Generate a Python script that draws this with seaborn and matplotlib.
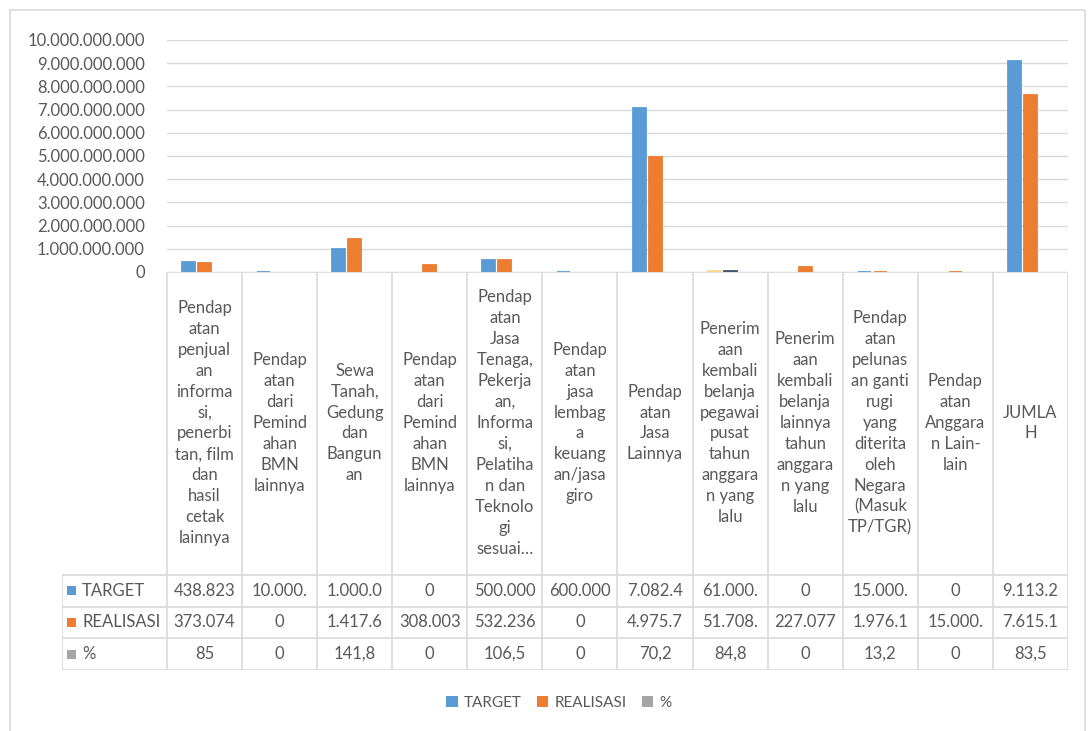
import matplotlib
matplotlib.use("Agg")
import matplotlib.pyplot as plt
import matplotlib.patches as mpatches
from matplotlib.ticker import FuncFormatter
import seaborn as sns
import pandas as pd

# ---------------- data ----------------
categories = [
    "Pendap\natan\npenjual\nan\ninforma\nsi,\npenerbi\ntan, film\ndan\nhasil\ncetak\nlainnya",
    "Pendap\natan\ndari\nPemind\nahan\nBMN\nlainnya",
    "Sewa\nTanah,\nGedung\ndan\nBangun\nan",
    "Pendap\natan\ndari\nPemind\nahan\nBMN\nlainnya ",
    "Pendap\natan\nJasa\nTenaga,\nPekerja\nan,\nInforma\nsi,\nPelatiha\nn dan\nTeknolo\ngi\nsesuai…",
    "Pendap\natan\njasa\nlembag\na\nkeuang\nan/jasa\ngiro",
    "Pendap\natan\nJasa\nLainnya",
    "Penerim\naan\nkembali\nbelanja\npegawai\npusat\ntahun\nanggara\nn yang\nlalu",
    "Penerim\naan\nkembali\nbelanja\nlainnya\ntahun\nanggara\nn yang\nlalu",
    "Pendap\natan\npelunas\nan ganti\nrugi\nyang\nditerita\noleh\nNegara\n(Masuk\nTP/TGR)",
    "Pendap\natan\nAnggara\nn Lain-\nlain",
    "JUMLA\nH",
]
series = ["TARGET", "REALISASI", "%"]
target = [438823000, 10000000, 1000000000, 0, 500000000, 600000, 7082400000,
          61000000, 0, 15000000, 0, 9113200000]
realisasi = [373074000, 0, 1417600000, 308003000, 532236000, 0, 4975700000,
             51708000, 227077000, 1976100, 15000000, 7615100000]
persen = [85, 0, 141.8, 0, 106.5, 0, 70.2, 84.8, 0, 13.2, 0, 83.5]
# table cell texts as shown (truncated by the cell width)
target_txt = ["438.823", "10.000.", "1.000.0", "0", "500.000", "600.000", "7.082.4",
              "61.000.", "0", "15.000.", "0", "9.113.2"]
realisasi_txt = ["373.074", "0", "1.417.6", "308.003", "532.236", "0", "4.975.7",
                 "51.708.", "227.077", "1.976.1", "15.000.", "7.615.1"]
persen_txt = ["85", "0", "141,8", "0", "106,5", "0", "70,2", "84,8", "0", "13,2", "0", "83,5"]
yticks = [0, 1e9, 2e9, 3e9, 4e9, 5e9, 6e9, 7e9, 8e9, 9e9, 1e10]

colors = ["#5B9BD5", "#ED7D31", "#A5A5A5"]
special_cat = 7
special_colors = ["#F7D98B", "#44546A"]

FONT = "Lato"
TXT = "#595959"
GRID = "#D9D9D9"
FS = 12

sns.set_style("white")
plt.rcParams["font.family"] = [FONT, "DejaVu Sans"]

W, H = 1088, 731
fig = plt.figure(figsize=(W / 100, H / 100), dpi=100)

def fx(px):
    return px / W

def fy(py):
    return 1 - py / H

# outer border
fig.patches.append(mpatches.Rectangle((fx(10), fy(735)), fx(1085) - fx(10), fy(10) - fy(735),
                                      transform=fig.transFigure, fill=False,
                                      edgecolor="#D9D9D9", linewidth=1.2))

L, R, TOP, BOT = 167, 1068, 40, 272
ax = fig.add_axes([fx(L), fy(BOT), fx(R) - fx(L), fy(TOP) - fy(BOT)])

keys = [f"c{i}" for i in range(len(categories))]
rows = []
for i, k in enumerate(keys):
    rows.append({"cat": k, "series": "TARGET", "value": target[i]})
    rows.append({"cat": k, "series": "REALISASI", "value": realisasi[i]})
    rows.append({"cat": k, "series": "%", "value": persen[i]})
df = pd.DataFrame(rows)

sns.barplot(data=df, x="cat", y="value", hue="series", order=keys, hue_order=series,
            palette=colors, width=0.64, gap=0.19, ax=ax, legend=False, saturation=1)

# style patches: hairline edge so tiny values remain visible (as Excel does)
for p in ax.patches:
    h = p.get_height()
    cx = p.get_x() + p.get_width() / 2
    fc = p.get_facecolor()
    if abs(cx - special_cat) < 0.5:
        if cx < special_cat - 0.1:
            fc = special_colors[0]
        elif cx < special_cat + 0.1:
            fc = special_colors[1]
        p.set_facecolor(fc)
    if h > 1000:
        p.set_edgecolor(fc)
        p.set_linewidth(1.3)
    else:
        p.set_linewidth(0)

ax.set_xlim(-0.5, len(categories) - 0.5)
ax.set_ylim(0, 1e10)
ax.set_yticks(yticks)
ax.yaxis.set_major_formatter(FuncFormatter(lambda v, _: f"{int(v):,}".replace(",", ".")))
ax.tick_params(axis="y", length=0, pad=16, labelsize=FS, labelcolor=TXT)
ax.set_xticks([])
ax.set_xlabel("")
ax.set_ylabel("")
ax.grid(axis="y", color=GRID, linewidth=1)
ax.set_axisbelow(True)
for s in ax.spines.values():
    s.set_visible(False)

# ---------------- data table ----------------
TL, TB = 62, 670
tax = fig.add_axes([fx(TL), fy(TB), fx(R) - fx(TL), fy(BOT) - fy(TB)])
tax.set_xlim(TL, R)
tax.set_ylim(TB, BOT)
tax.axis("off")
tax.patch.set_alpha(0)

n = len(categories)
cw = (R - L) / n
row_y = [575, 606.5, 638, 670]
lc = dict(color=GRID, linewidth=1.2, solid_capstyle="butt")
for i in range(n + 1):
    x = L + i * cw
    tax.plot([x, x], [BOT, TB], **lc)
tax.plot([TL, TL], [row_y[0], TB], **lc)
tax.plot([L, R], [BOT, BOT], **lc)
for y in row_y:
    tax.plot([TL, R], [y, y], **lc)

for i, lab in enumerate(categories):
    tax.text(L + (i + 0.5) * cw, 423, lab.strip(), ha="center", va="center",
             fontsize=FS, color=TXT, linespacing=1.38)

row_txts = [target_txt, realisasi_txt, persen_txt]
for r, (name, txts) in enumerate(zip(series, row_txts)):
    yc = (row_y[r] + row_y[r + 1]) / 2
    tax.add_patch(mpatches.Rectangle((67, yc - 4.5), 9, 9, facecolor=colors[r], edgecolor="none"))
    tax.text(82, yc, name, ha="left", va="center", fontsize=FS, color=TXT)
    for i, t in enumerate(txts):
        tax.text(L + (i + 0.5) * cw, yc, t, ha="center", va="center", fontsize=FS, color=TXT)

# legend
handles = [mpatches.Patch(facecolor=c, edgecolor="none", label=s) for c, s in zip(colors, series)]
fig.legend(handles=handles, loc="center", bbox_to_anchor=(fx(559), fy(703)), ncol=3,
           frameon=False, fontsize=11, labelcolor=TXT, handlelength=0.75, handleheight=0.75,
           handletextpad=0.4, columnspacing=1.0)

fig.savefig("out.png", dpi=100)
